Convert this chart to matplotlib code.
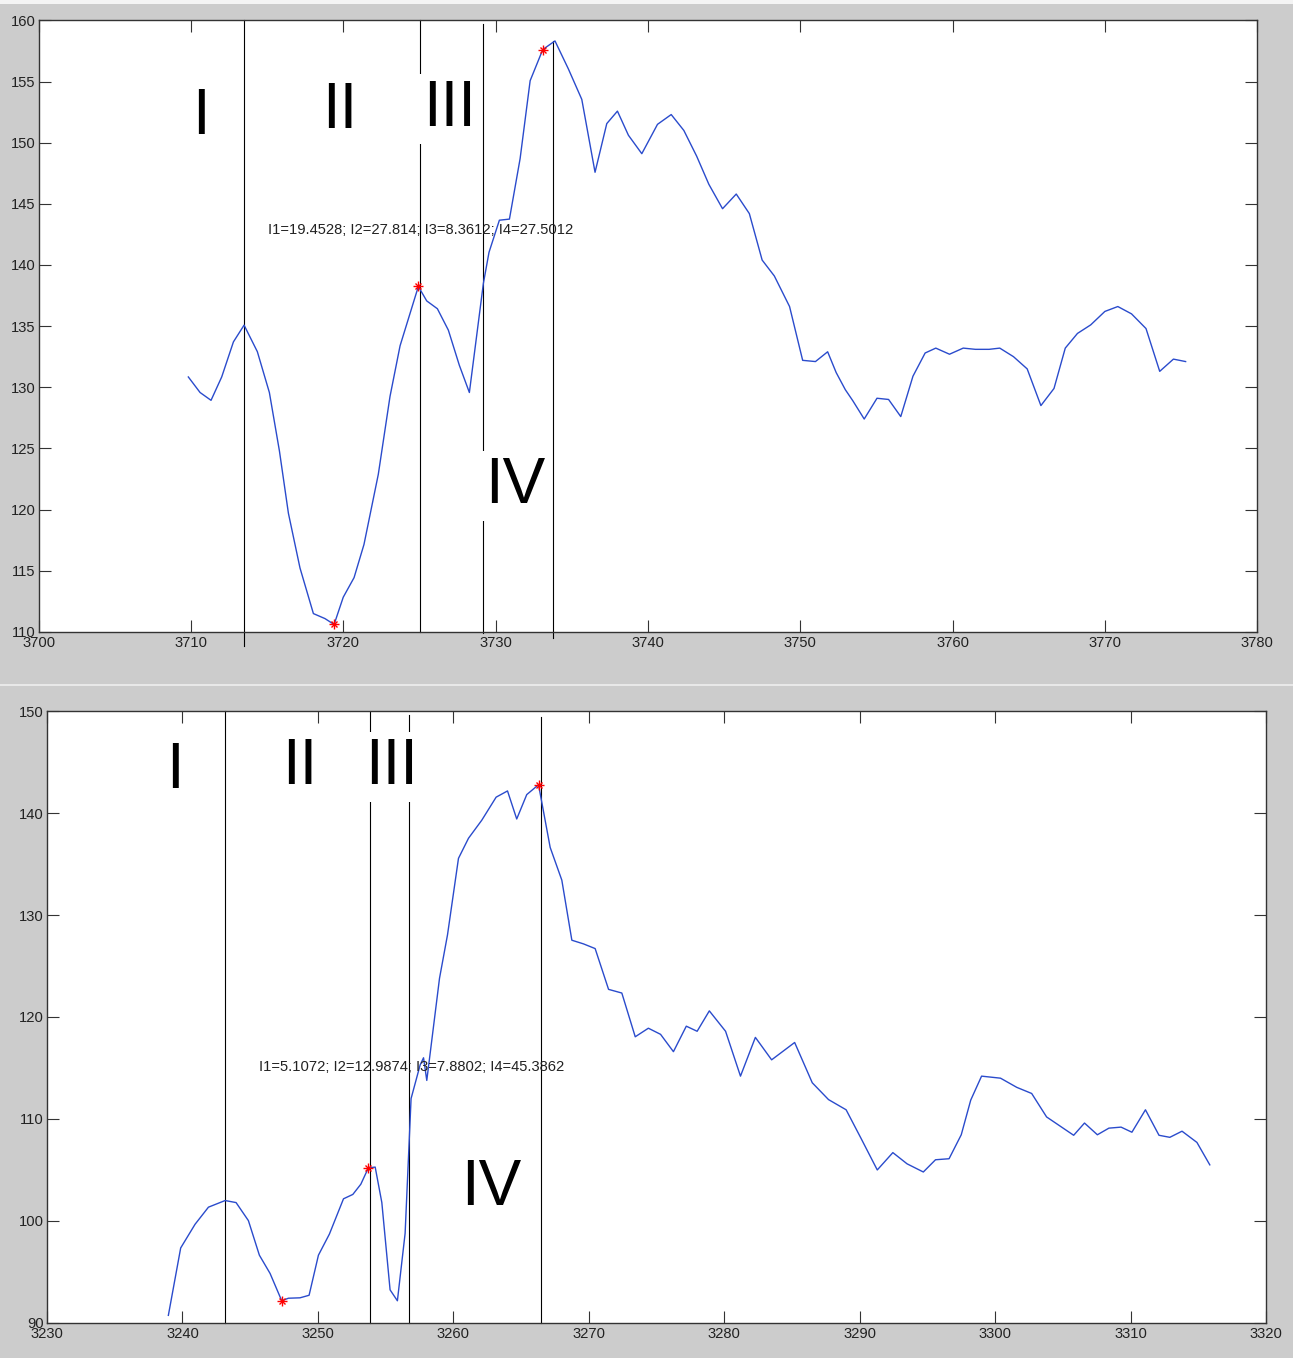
import matplotlib
matplotlib.use("Agg")
import matplotlib.pyplot as plt
from matplotlib.patches import Rectangle

plt.rcParams['font.family'] = ['Liberation Sans', 'DejaVu Sans']

# ---------------- data: top panel ----------------
top_x = [3709.83, 3710.6, 3711.32, 3712.02, 3712.79, 3713.49, 3714.36, 3715.15,
         3715.81, 3716.4, 3717.16, 3718.04, 3718.8, 3719.4, 3720.0, 3720.71,
         3721.36, 3722.3, 3723.07, 3723.73, 3724.93, 3725.48, 3726.18, 3726.9,
         3727.62, 3728.28, 3729.2, 3729.57, 3730.25, 3730.91, 3731.61, 3732.27,
         3733.1, 3733.9, 3734.78, 3735.66, 3736.53, 3737.3, 3738.0, 3738.72,
         3739.6, 3740.63, 3741.53, 3742.36, 3743.2, 3744.0, 3744.9, 3745.8,
         3746.66, 3747.5, 3748.3, 3749.3, 3750.16, 3751.0, 3751.8, 3752.36,
         3752.96, 3753.45, 3754.2, 3755.04, 3755.8, 3756.6, 3757.4, 3758.2,
         3758.9, 3759.8, 3760.7, 3761.5, 3762.4, 3763.1, 3764.0, 3764.9,
         3765.8, 3766.66, 3767.4, 3768.2, 3769.07, 3770.0, 3770.85, 3771.75,
         3772.7, 3773.6, 3774.5, 3775.3]
top_y = [130.84, 129.57, 128.93, 130.84, 133.71, 135.08, 132.91, 129.57,
         124.79, 119.69, 115.22, 111.49, 111.08, 110.6, 112.83, 114.43,
         117.14, 122.87, 129.25, 133.39, 138.24, 137.06, 136.42, 134.67,
         131.8, 129.57, 138.5, 141.04, 143.66, 143.75, 148.69, 155.07,
         157.62, 158.32, 156.03, 153.54, 147.58, 151.56, 152.58, 150.61,
         149.1, 151.5, 152.3, 151.0, 148.9, 146.6, 144.6, 145.8,
         144.2, 140.4, 139.1, 136.6, 132.2, 132.1, 132.9, 131.2,
         129.8, 128.9, 127.4, 129.1, 129.0, 127.6, 130.9, 132.8,
         133.2, 132.7, 133.2, 133.1, 133.1, 133.2, 132.5, 131.5,
         128.5, 129.9, 133.2, 134.4, 135.1, 136.2, 136.6, 136.0,
         134.8, 131.3, 132.3, 132.1]
top_star_x = [3719.4, 3724.93, 3733.1]
top_star_y = [110.6, 138.3, 157.55]
top_vline_x = [3713.5, 3725.03, 3729.2, 3733.8]
top_vline_ytop = [160.0, 160.0, 159.7, 158.3]
top_vline_ybot = [108.84, 110.0, 109.9, 109.5]
top_labels = ['I', 'II', 'III', 'IV']
top_label_x = [3710.66, 3719.79, 3727.0, 3731.3]
top_label_y = [150.67, 151.2, 151.38, 120.51]
top_note = 'I1=19.4528; I2=27.814; I3=8.3612; I4=27.5012'
top_note_xy = (3715.09, 142.5)
top_xticks = [3700, 3710, 3720, 3730, 3740, 3750, 3760, 3770, 3780]
top_yticks = [110, 115, 120, 125, 130, 135, 140, 145, 150, 155, 160]

# ---------------- data: bottom panel ----------------
bot_x = [3238.96, 3239.87, 3240.93, 3241.92, 3243.15, 3243.96, 3244.87, 3245.68,
         3246.47, 3247.33, 3247.82, 3248.68, 3249.35, 3250.04, 3250.85, 3251.89,
         3252.58, 3253.17, 3253.73, 3254.23, 3254.72, 3255.33, 3255.87, 3256.44,
         3256.88, 3257.55, 3257.8, 3258.04, 3258.98, 3259.57, 3260.38, 3261.12,
         3262.1, 3263.16, 3264.0, 3264.68, 3265.42, 3266.29, 3267.15, 3268.01,
         3268.75, 3269.61, 3270.47, 3271.46, 3272.44, 3273.43, 3274.4, 3275.3,
         3276.25, 3277.2, 3278.0, 3278.9, 3280.1, 3281.2, 3282.3, 3283.5,
         3284.3, 3285.2, 3286.5, 3287.7, 3289.0, 3290.1, 3291.3, 3292.45,
         3293.5, 3294.7, 3295.6, 3296.6, 3297.5, 3298.2, 3299.0, 3300.4,
         3301.6, 3302.7, 3303.8, 3304.8, 3305.8, 3306.6, 3307.55, 3308.4,
         3309.3, 3310.1, 3311.1, 3312.1, 3312.9, 3313.8, 3314.9, 3315.85]
bot_y = [90.74, 97.35, 99.67, 101.35, 102.0, 101.8, 100.03, 96.64,
         94.85, 92.17, 92.42, 92.46, 92.71, 96.64, 98.71, 102.17,
         102.6, 103.6, 105.21, 105.28, 101.81, 93.24, 92.17, 98.78,
         112.0, 115.3, 116.0, 113.78, 123.8, 128.06, 135.56, 137.53,
         139.3, 141.56, 142.17, 139.42, 141.81, 142.78, 136.63, 133.42,
         127.53, 127.17, 126.71, 122.71, 122.35, 118.06, 118.9, 118.3,
         116.6, 119.1, 118.6, 120.6, 118.6, 114.2, 118.0, 115.8,
         116.6, 117.5, 113.55, 111.9, 110.9, 108.1, 105.0, 106.7,
         105.6, 104.8, 106.0, 106.1, 108.45, 111.85, 114.2, 114.0,
         113.1, 112.5, 110.2, 109.3, 108.4, 109.6, 108.45, 109.1,
         109.2, 108.7, 110.9, 108.4, 108.2, 108.8, 107.7, 105.5]
bot_star_x = [3247.33, 3253.73, 3266.29]
bot_star_y = [92.17, 105.21, 142.78]
bot_vline_x = [3243.12, 3253.85, 3256.76, 3266.47]
bot_vline_ytop = [150.0, 149.87, 149.66, 149.45]
bot_vline_ybot = [90.0, 90.0, 90.0, 90.0]
bot_labels = ['I', 'II', 'III', 'IV']
bot_label_x = [3239.45, 3248.63, 3255.47, 3262.81]
bot_label_y = [142.45, 142.87, 142.87, 101.55]
bot_note = 'I1=5.1072; I2=12.9874; I3=7.8802; I4=45.3862'
bot_note_xy = (3245.66, 114.69)
bot_xticks = [3230, 3240, 3250, 3260, 3270, 3280, 3290, 3300, 3310, 3320]
bot_yticks = [90, 100, 110, 120, 130, 140, 150]

# ---------------- figure ----------------
W, H = 1293, 1358
fig = plt.figure(figsize=(W / 100, H / 100), dpi=100, facecolor='#cccccc')

# light strips of the screenshot frame
fig.patches.append(Rectangle((0, 1 - 4 / H), 1, 4 / H, transform=fig.transFigure,
                             facecolor='#f4f4f4', edgecolor='none', zorder=-10))
fig.patches.append(Rectangle((0, 1 - 686 / H), 1, 2 / H, transform=fig.transFigure,
                             facecolor='#e8e8e8', edgecolor='none', zorder=-10))

LINE_C = '#2a4bcc'


def panel(rect, xs, ys, sx, sy, vx, vyt, vyb, labels, lx, ly, note, note_xy,
          xticks, yticks):
    ax = fig.add_axes(rect)
    ax.set_facecolor('white')
    ax.plot(xs, ys, color=LINE_C, lw=1.0, zorder=3)
    for x, yt, yb in zip(vx, vyt, vyb):
        ax.plot([x, x], [yb, yt], color='black', lw=0.8, zorder=2, clip_on=False)
    ax.plot(sx, sy, ls='none', marker='+', ms=7, mew=1.0, color='red', zorder=5)
    ax.plot(sx, sy, ls='none', marker='x', ms=5, mew=1.0, color='red', zorder=5)
    for t, x, y in zip(labels, lx, ly):
        ax.text(x, y, t, fontsize=46, color='black', ha='center', va='baseline',
                zorder=6,
                bbox=dict(boxstyle='square,pad=0.08', facecolor='white',
                          edgecolor='none'))
    ax.text(note_xy[0], note_xy[1], note, fontsize=10.6, color='#222222',
            ha='left', va='baseline', zorder=4)
    ax.set_xlim(xticks[0], xticks[-1])
    ax.set_ylim(yticks[0], yticks[-1])
    ax.set_xticks(xticks)
    ax.set_yticks(yticks)
    ax.tick_params(direction='in', length=8.8, width=0.8, top=True, right=True,
                   labelsize=10.6, labelcolor='#222222', color='#333333')
    ax.tick_params(axis='x', pad=3.2)
    ax.tick_params(axis='y', pad=2.4)
    for s in ax.spines.values():
        s.set_color('#333333')
        s.set_linewidth(1.0)
    return ax


panel([38.6 / W, 1 - 631.8 / H, (1257.2 - 38.6) / W, (631.8 - 20.4) / H],
      top_x, top_y, top_star_x, top_star_y, top_vline_x, top_vline_ytop,
      top_vline_ybot, top_labels, top_label_x, top_label_y, top_note,
      top_note_xy, top_xticks, top_yticks)

panel([47.0 / W, 1 - 1322.9 / H, (1266.0 - 47.0) / W, (1322.9 - 711.1) / H],
      bot_x, bot_y, bot_star_x, bot_star_y, bot_vline_x, bot_vline_ytop,
      bot_vline_ybot, bot_labels, bot_label_x, bot_label_y, bot_note,
      bot_note_xy, bot_xticks, bot_yticks)

fig.savefig('out.png', dpi=100, facecolor=fig.get_facecolor())
